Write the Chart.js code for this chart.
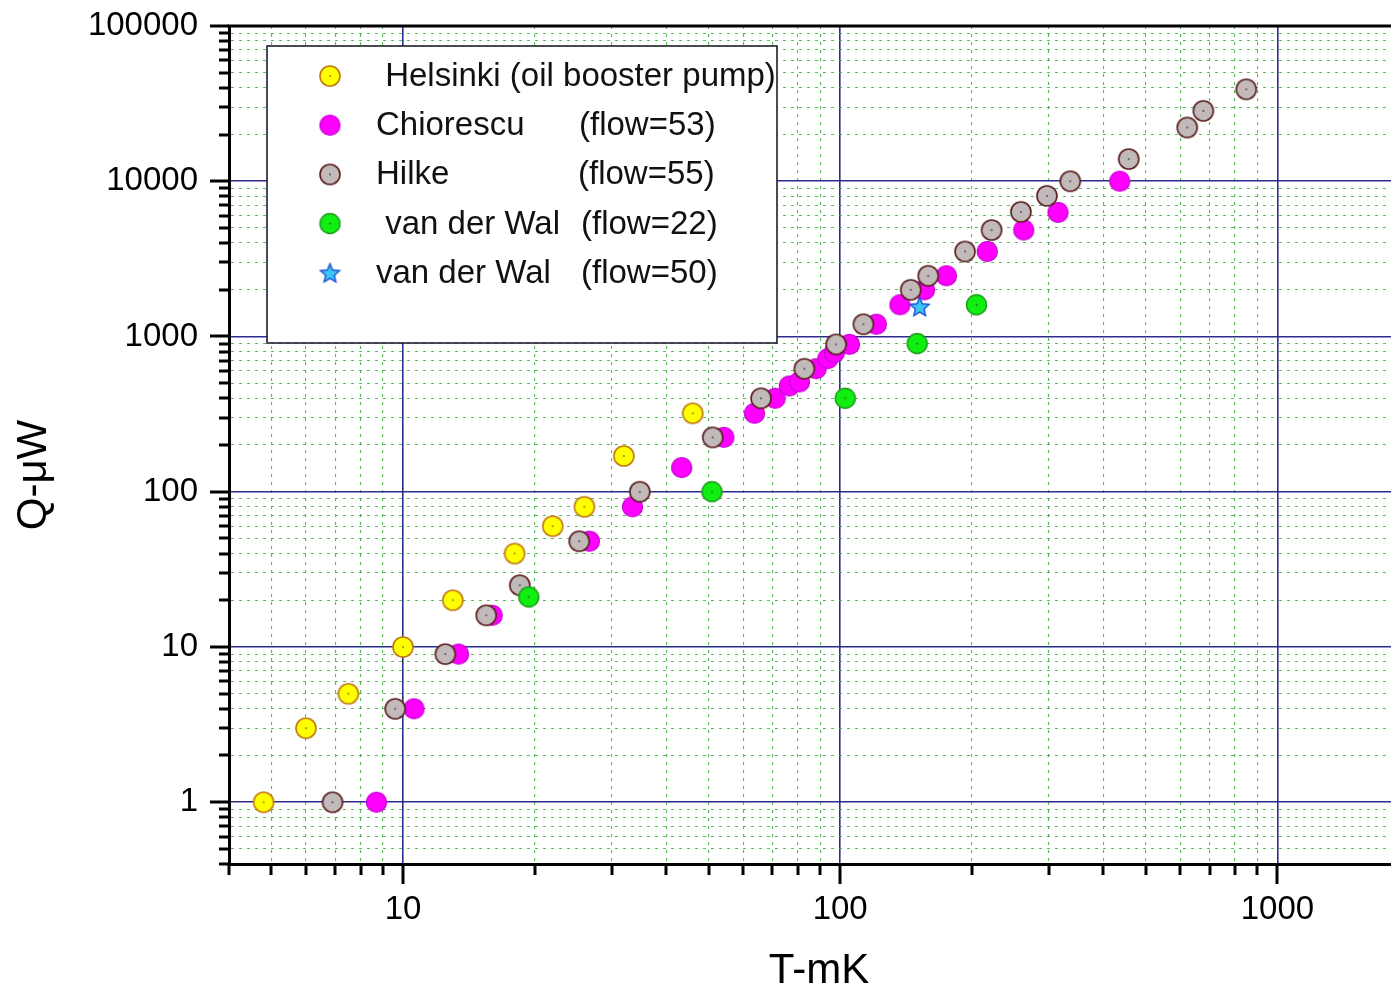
<!DOCTYPE html>
<html>
<head>
<meta charset="utf-8">
<script src="https://cdn.jsdelivr.net/npm/chart.js@4.4.1/dist/chart.umd.min.js"></script>
<style>
  html, body { margin: 0; padding: 0; background: #ffffff; overflow: hidden; width: 1391px; height: 989px; }
  #wrap { position: absolute; left: 0; top: 0; width: 1420px; height: 989px; }
</style>
</head>
<body>
<div id="wrap"><canvas id="c" width="1420" height="989"></canvas></div>
<script>
// ---------------- data ----------------
const helsinkiT  = [4.8, 6.0, 7.5, 10.0, 13.0, 18.0, 22.0, 26.0, 32.0, 46.0];
const helsinkiQ  = [1, 3, 5, 10, 20, 40, 60, 80, 170, 320];

const chiorescuT = [8.7, 10.6, 13.4, 16.0, 26.7, 33.5, 43.4, 54.2, 63.7, 71.0, 76.5, 80.7, 88.1, 93.7, 97.0, 105, 121, 137, 156, 175, 217, 263, 315, 436];
const chiorescuQ = [1, 4, 9, 16, 48, 80, 143, 224, 320, 400, 480, 510, 620, 720, 790, 890, 1200, 1600, 2000, 2460, 3530, 4850, 6300, 10000];

const hilkeT     = [6.9, 9.6, 12.5, 15.5, 18.5, 25.3, 34.8, 51.1, 65.9, 82.8, 97.9, 113, 145, 159, 193, 222, 259, 297, 336, 457, 622, 677, 849];
const hilkeQ     = [1, 4, 9, 16, 25, 48, 100, 224, 400, 620, 890, 1200, 2000, 2460, 3530, 4850, 6350, 8050, 10000, 13900, 22200, 28400, 39100];

const vdw22T     = [19.4, 50.9, 102.7, 150, 205];
const vdw22Q     = [21, 100, 400, 900, 1600];

const vdw50T     = [152];
const vdw50Q     = [1560];

const legendNames = [' Helsinki (oil booster pump)', 'Chiorescu', 'Hilke', ' van der Wal', 'van der Wal'];
const legendFlows = ['', '(flow=53)', '(flow=55)', '(flow=22)', '(flow=50)'];

const xTickLabels = ['10', '100', '1000'];
const yTickLabels = ['1', '10', '100', '1000', '10000', '100000'];
const xTitle = 'T-mK';
const yTitle = 'Q-\u03BCW';

const xMin = 4, xMax = 2000, yMin = 0.4, yMax = 100000;

// ---------------- helpers ----------------
const FONT = "'Liberation Sans', Arial, sans-serif";
function pairs(xs, ys) { return xs.map((v, i) => ({ x: v, y: ys[i] })); }
function isDecade(v) { const l = Math.log10(v); return Math.abs(l - Math.round(l)) < 1e-9; }
function logTicks(min, max) {
  const out = [];
  const e0 = Math.floor(Math.log10(min)), e1 = Math.ceil(Math.log10(max));
  for (let e = e0; e <= e1; e++) {
    for (let m = 1; m <= 9; m++) {
      const v = parseFloat((m * Math.pow(10, e)).toPrecision(6));
      if (v >= min - 1e-12 && v <= max + 1e-9) out.push({ value: v, major: m === 1 });
    }
  }
  return out;
}
function circleMarker(fill, stroke, r, lw, dot) {
  const s = Math.ceil(2 * (r + lw) + 2);
  const c = document.createElement('canvas');
  c.width = s; c.height = s;
  const g = c.getContext('2d');
  g.beginPath(); g.arc(s / 2, s / 2, r, 0, Math.PI * 2);
  g.fillStyle = fill; g.fill();
  g.lineWidth = lw; g.strokeStyle = stroke; g.stroke();
  if (dot) { g.fillStyle = dot; g.fillRect(s / 2 - 0.75, s / 2 - 0.75, 1.5, 1.5); }
  return c;
}
function starMarker(fill, stroke, R, ri, lw) {
  const s = Math.ceil(2 * (R + lw) + 2);
  const c = document.createElement('canvas');
  c.width = s; c.height = s;
  const g = c.getContext('2d');
  g.beginPath();
  for (let i = 0; i < 10; i++) {
    const rr = i % 2 === 0 ? R : ri;
    const a = -Math.PI / 2 + i * Math.PI / 5;
    const px = s / 2 + rr * Math.cos(a), py = s / 2 + 1 + rr * Math.sin(a);
    if (i === 0) g.moveTo(px, py); else g.lineTo(px, py);
  }
  g.closePath();
  g.fillStyle = fill; g.fill();
  g.lineWidth = lw; g.strokeStyle = stroke; g.stroke();
  return c;
}

const mYellow  = circleMarker('#ffff00', '#c07a10', 10, 1.6, '#806000');
const mMagenta = circleMarker('#ff00ff', '#c000d0', 10, 1.2, null);
const mGray    = circleMarker('#c2baba', '#5a1e1e', 10, 1.6, '#303030');
const mGreen   = circleMarker('#11ee11', '#1a9a1a', 10, 1.4, '#0a6a0a');
const mStar    = starMarker('#3cc4f4', '#1a4fd0', 10, 4.6, 1.4);
const legendMarkers = [mYellow, mMagenta, mGray, mGreen, mStar];

const MAJOR_GRID = '#2c2c8c';
const MINOR_GRID = 'rgba(50,180,50,0.85)';

// ---------------- custom drawing plugin ----------------
const decor = {
  id: 'decor',
  afterDraw(chart) {
    const { ctx, chartArea: a, scales: { x, y } } = chart;
    ctx.save();
    ctx.strokeStyle = '#000';
    ctx.lineWidth = 3;
    ctx.lineCap = 'butt';
    // top frame line
    ctx.beginPath(); ctx.moveTo(a.left - 1.5, a.top); ctx.lineTo(a.right + 5, a.top); ctx.stroke();
    // tick marks
    x.ticks.forEach(t => {
      const px = Math.round(x.getPixelForValue(t.value));
      const L = isDecade(t.value) ? 20 : 11;
      ctx.beginPath(); ctx.moveTo(px, a.bottom); ctx.lineTo(px, a.bottom + L); ctx.stroke();
    });
    y.ticks.forEach(t => {
      const py = Math.round(y.getPixelForValue(t.value));
      const L = isDecade(t.value) ? 19 : 10;
      ctx.beginPath(); ctx.moveTo(a.left, py); ctx.lineTo(a.left - L, py); ctx.stroke();
    });
    // axis titles
    ctx.fillStyle = '#000';
    ctx.font = '42px ' + FONT;
    ctx.textAlign = 'center'; ctx.textBaseline = 'middle';
    ctx.fillText(xTitle, (a.left + a.right) / 2, 971);
    ctx.save();
    ctx.translate(34, 475); ctx.rotate(-Math.PI / 2);
    ctx.fillText(yTitle, 0, 0);
    ctx.restore();
    // legend box
    const bx = a.left + 38, by = a.top + 20, bw = 510, bh = 297;
    ctx.fillStyle = '#fff'; ctx.fillRect(bx, by, bw, bh);
    ctx.strokeStyle = '#1e1e2e'; ctx.lineWidth = 1.6; ctx.strokeRect(bx, by, bw, bh);
    ctx.font = '33px ' + FONT;
    ctx.textAlign = 'left'; ctx.textBaseline = 'middle';
    ctx.fillStyle = '#111';
    const rowY0 = by + 30, rowStep = 49.2;
    const nameX = bx + 109, flowX = bx + 313;
    legendNames.forEach((nm, i) => {
      const yy = rowY0 + i * rowStep;
      const mk = legendMarkers[i];
      ctx.drawImage(mk, bx + 63 - mk.width / 2, yy - mk.height / 2);
      ctx.fillText(nm, nameX, yy + 1);
      if (legendFlows[i]) ctx.fillText(legendFlows[i], flowX + (i === 1 ? -1 : (i === 2 ? -2 : 1)), yy + 1);
    });
    ctx.restore();
  }
};

// ---------------- chart ----------------
const gridColor = c => (c.tick && isDecade(c.tick.value)) ? MAJOR_GRID : MINOR_GRID;
const gridWidth = c => (c.tick && isDecade(c.tick.value)) ? 1.6 : 1.1;
const gridDash  = c => (c.tick && isDecade(c.tick.value)) ? [] : [3, 5];

new Chart(document.getElementById('c'), {
  type: 'scatter',
  data: {
    datasets: [
      { label: 'van der Wal (flow=50)', data: pairs(vdw50T, vdw50Q), pointStyle: mStar, order: 0 },
      { label: 'van der Wal (flow=22)', data: pairs(vdw22T, vdw22Q), pointStyle: mGreen, order: 1 },
      { label: 'Helsinki (oil booster pump)', data: pairs(helsinkiT, helsinkiQ), pointStyle: mYellow, order: 2 },
      { label: 'Hilke (flow=55)', data: pairs(hilkeT, hilkeQ), pointStyle: mGray, order: 3 },
      { label: 'Chiorescu (flow=53)', data: pairs(chiorescuT, chiorescuQ), pointStyle: mMagenta, order: 4 }
    ]
  },
  options: {
    responsive: false,
    animation: false,
    devicePixelRatio: 1,
    layout: { padding: { top: 26, right: 10, left: 0, bottom: 0 } },
    plugins: { legend: { display: false }, tooltip: { enabled: false }, title: { display: false } },
    elements: { point: { radius: 10, hoverRadius: 10 } },
    scales: {
      x: {
        type: 'logarithmic',
        min: xMin, max: xMax,
        afterBuildTicks: s => { s.ticks = logTicks(xMin, xMax); },
        afterFit: s => { s.height = 125; s.paddingLeft = 0; s.paddingRight = 0; },
        border: { display: true, color: '#000', width: 3, dash: gridDash },
        grid: { color: gridColor, lineWidth: gridWidth, drawTicks: true, tickLength: 20, tickColor: 'rgba(0,0,0,0)' },
        ticks: {
          autoSkip: false, maxRotation: 0, minRotation: 0, padding: 6,
          color: '#000', font: { family: FONT, size: 33 },
          callback: v => { const s = String(Math.round(v)); return (isDecade(v) && xTickLabels.includes(s)) ? s : ''; }
        }
      },
      y: {
        type: 'logarithmic',
        min: yMin, max: yMax,
        afterBuildTicks: s => { s.ticks = logTicks(yMin, yMax); },
        afterFit: s => { s.width = 229; s.paddingTop = 0; s.paddingBottom = 0; },
        border: { display: true, color: '#000', width: 3, dash: gridDash },
        grid: { color: gridColor, lineWidth: gridWidth, drawTicks: true, tickLength: 25, tickColor: 'rgba(0,0,0,0)' },
        ticks: {
          autoSkip: false, padding: 6,
          color: '#000', font: { family: FONT, size: 33 },
          callback: v => { const s = String(Math.round(v)); return (isDecade(v) && v >= 1 && yTickLabels.includes(s)) ? s : ''; }
        }
      }
    }
  },
  plugins: [decor]
});
</script>
</body>
</html>
